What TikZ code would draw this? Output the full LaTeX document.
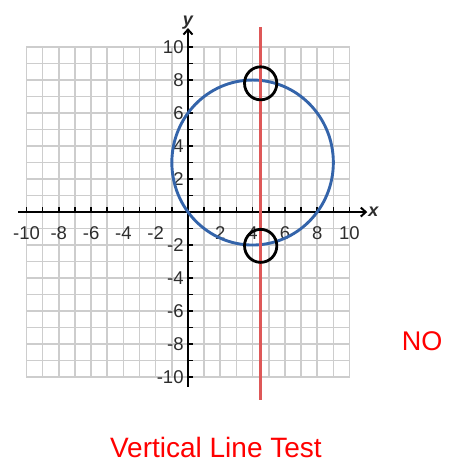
\documentclass[tikz,border=0pt]{standalone}
\usepackage{fontspec}
\setmainfont{Liberation Sans}
\usetikzlibrary{arrows.meta}
\definecolor{circblue}{RGB}{52,100,170}
\definecolor{testred}{RGB}{222,88,88}
\definecolor{gridgray}{RGB}{205,205,205}
\definecolor{labgray}{RGB}{45,45,45}
\begin{document}
\begin{tikzpicture}[x=16.15pt, y=16.5pt, >={Straight Barb[length=5pt,width=9pt]},
    every node/.style={inner sep=1pt},
    ticklab/.style={labgray, font=\fontsize{18.5}{18.5}\selectfont}]

    % --- 1. 描画範囲 (Bounding box) ---
    \useasboundingbox (-11.64, -15.27) rectangle (16.28, 12.85);

    % --- 2. 方眼 (Grid) ---
    \draw[gridgray, line width=1.6pt, step=1] (-10, -10) grid (10, 10);

    % --- 3. 座標軸 ---
    \draw[->, line width=2pt] (-10.5, 0) -- (11.1, 0)
    node[right=-1pt, labgray, font=\bfseries\itshape\fontsize{18}{18}\selectfont] (xlab) {x};
    \draw[->, line width=2pt] (0, -10.6) -- (0, 11.15)
    node[above=-3pt, labgray, font=\bfseries\itshape\fontsize{18}{18}\selectfont] (ylab) {y};

    % 目盛り
    \foreach \i in {-10,...,10} {
        \draw[line width=1.6pt] (\i, 0) -- (\i, 0.3);
        \draw[line width=1.6pt] (0, \i) -- (0.3, \i);
    }

    % 目盛りラベル
    \foreach \i in {-10,-8,-6,-4,-2,2,4,6,8,10} {
        \node[ticklab] (xt\i) at (\i, -1.3) {\i};
        \node[ticklab, anchor=east] (yt\i) at (-0.2, \i) {\i};
    }

    % --- 4. 円 (x-4)^2 + (y-3)^2 = 25 ---
    \draw[circblue, line width=2.9pt] (4, 3) circle (5);

    % --- 5. 鉛直線 x = 4.5 ---
    \draw[testred, line width=2.4pt] (4.5, 11.2) -- (4.5, -11.4);

    % 交点の丸印
    \draw[black, line width=2.8pt] (4.5, 7.8) circle (1.0);
    \draw[black, line width=2.8pt] (4.5, -2.05) circle (1.0);

    % --- 6. 文字 ---
    \node[red, font=\fontsize{27}{27}\selectfont] (ans) at (14.49, -7.82) {NO};
    \node[red, font=\fontsize{28}{28}\selectfont] (title) at (1.73, -14.24) {Vertical Line Test};

\end{tikzpicture}
\end{document}
